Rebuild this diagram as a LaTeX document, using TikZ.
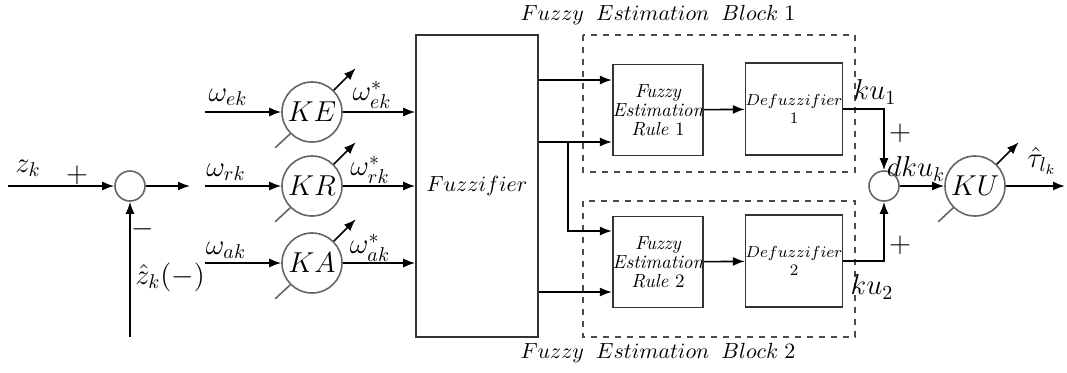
\documentclass[tikz,border=0pt]{standalone}
\usepackage{amsmath,amssymb}
\usetikzlibrary{arrows.meta,calc}

\begin{document}
\begin{tikzpicture}
	[x=0.5pt,y=-0.5pt,line width=0.8pt,>={Latex[length=6pt,width=4.5pt]},
	every node/.style={font=\fontsize{14.5}{16}\selectfont},
	gain/.style={circle,draw=black!60,fill=white,minimum size=30pt,inner sep=0pt},
	summer/.style={circle,draw=black!60,minimum size=15pt,inner sep=0pt},
	blk/.style={rectangle,draw=black!80,inner sep=0pt,align=center},
	rulebox/.style={blk,minimum width=45pt,minimum height=45.5pt,font=\fontsize{9.5}{9.5}\selectfont\itshape},
	defbox/.style={blk,minimum width=46pt,minimum height=46pt,font=\fontsize{8}{9}\selectfont},
	tag/.style={inner sep=1pt},
	title/.style={inner sep=1pt,font=\fontsize{11}{13}\selectfont}]
	\useasboundingbox (0,0) rectangle (1067,372);

	% blocks
	\node[summer] (s1) at (130,186) {};
	\node[gain] (ke) at (312,112) {$KE$};
	\node[gain] (kr) at (312,186) {$KR$};
	\node[gain] (ka) at (312,263) {$KA$};
	\node[blk,minimum width=61pt,minimum height=151pt,font=\fontsize{11}{13}\selectfont] (fz) at (477,186) {$Fuzzifier$};
	\node[rulebox] (r1) at (658,110) {Fuzzy\\Estimation\\Rule {\upshape 1}};
	\node[rulebox] (r2) at (658,262) {Fuzzy\\Estimation\\Rule {\upshape 2}};
	\node[defbox] (d1) at (794,109) {$Defuzzifier$\\1};
	\node[defbox] (d2) at (794,261) {$Defuzzifier$\\2};
	\node[summer] (s2) at (884,186) {};
	\node[gain] (ku) at (975,186) {$KU$};

	% fuzzy estimation blocks
	\draw[dashed,black!70] (583,35) rectangle (855,172);
	\draw[dashed,black!70] (583,201) rectangle (855,337);
	\node[title] (t1) at (658,15) {$Fuzzy\;\;Estimation\;\;Block\;1$};
	\node[title] (t2) at (658,353) {$Fuzzy\;\;Estimation\;\;Block\;2$};

	% free ends
	\coordinate (zin) at (8,186);
	\coordinate (fb) at (130,337);
	\coordinate (sout) at (190,186);
	\coordinate (win1) at (205,112);
	\coordinate (win2) at (205,186);
	\coordinate (win3) at (205,263);
	\coordinate (kout) at (1065,186);
	\coordinate (br) at (568,0);
	\coordinate (a1) at ($(r1.west)+(0,-30)$);
	\coordinate (a2) at ($(r1.west)+(0,32)$);
	\coordinate (a3) at ($(r2.west)+(0,-31)$);
	\coordinate (a4) at ($(r2.west)+(0,30)$);

	% connectors
	\foreach \from/\to in {zin/s1,fb/s1,s1/sout,win1/ke,win2/kr,win3/ka,r1/d1,r2/d2,s2/ku,ku/kout}
	\draw[->] (\from) -- (\to);
	\foreach \g in {ke,kr,ka}
	\draw[->] (\g) -- (\g -| fz.west);
	\foreach \a in {a1,a2,a4}
	\draw[->] (fz.east |- \a) -- (\a);
	\draw[->] (br |- a2) |- (a3);
	\draw[->] (d1) -| (s2);
	\draw[->] (d2) -| (s2);

	% variable gain arrows
	\foreach \g in {ke,kr,ka,ku} {
		\draw[black!60] (\g.225) -- +(-15,14);
		\draw[->] (\g.45) -- +(22,-22);
	}

	% labels
	\node[tag] (lz) at (28,168) {$z_k$};
	\node[tag] (lp1) at (77,175) {$+$};
	\node[tag] (lm) at (143,229) {$-$};
	\node[tag] (lzh) at (170,277) {$\hat{z}_k(-)$};
	\node[tag] (le) at (228,97) {$\omega_{ek}$};
	\node[tag] (lr) at (226,172) {$\omega_{rk}$};
	\node[tag] (la) at (226,250) {$\omega_{ak}$};
	\node[tag] (les) at (372,95) {$\omega_{ek}^{*}$};
	\node[tag] (lrs) at (370,170) {$\omega_{rk}^{*}$};
	\node[tag] (las) at (370,248) {$\omega_{ak}^{*}$};
	\node[tag] (lu1) at (875,92) {$ku_1$};
	\node[tag] (lu2) at (872,287) {$ku_2$};
	\node[tag] (lp2) at (900,133) {$+$};
	\node[tag] (lp3) at (900,245) {$+$};
	\node[tag] (ldk) at (916,169) {$dku_k$};
	\node[tag] (lt) at (1042,161) {$\hat{\tau}_{l_k}$};
\end{tikzpicture}
\end{document}
